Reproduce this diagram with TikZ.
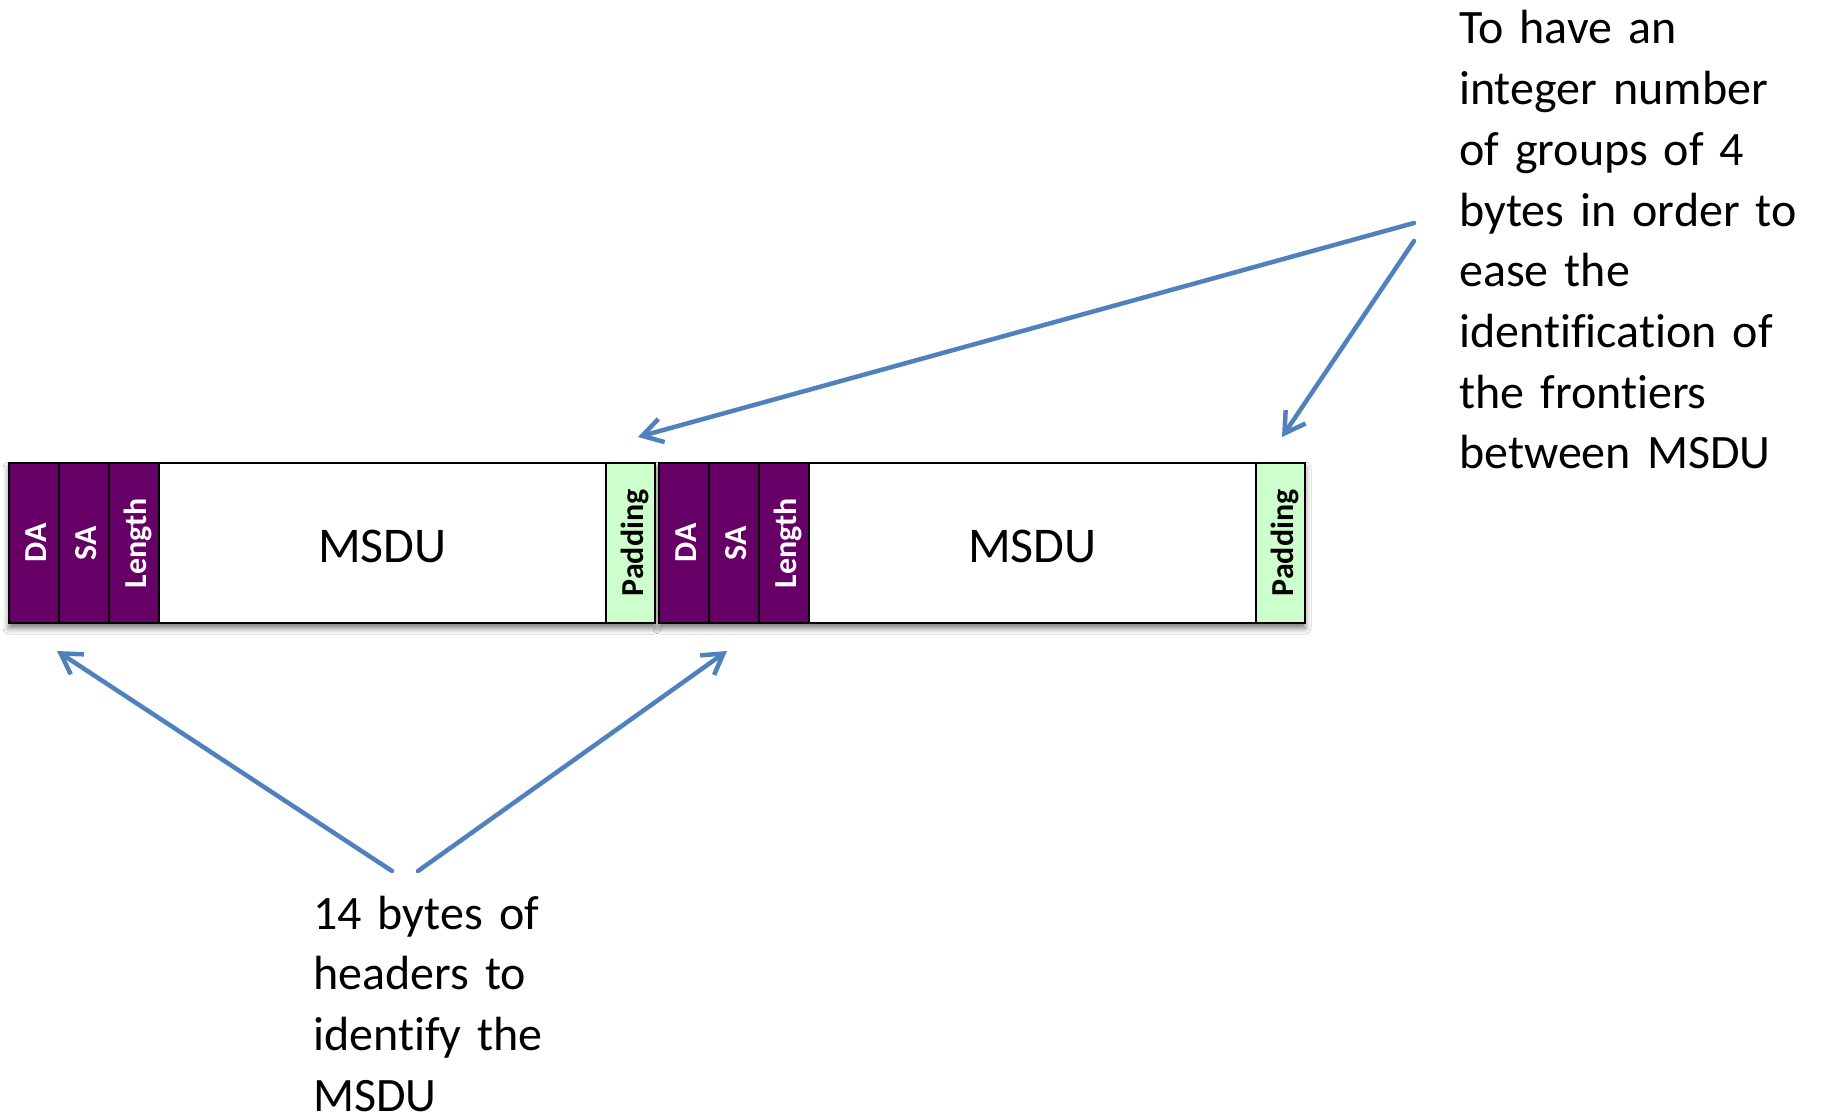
\documentclass[tikz,border=0pt]{standalone}
\usepackage{fontspec}
\setmainfont{Carlito}[Ligatures=NoCommon]
\usetikzlibrary{arrows.meta,shadows.blur}

\definecolor{hdrpurple}{HTML}{660066}
\definecolor{padgreen}{HTML}{CCFFCC}
\definecolor{arrowblue}{HTML}{4F81BD}

\tikzset{
  cell/.style={draw=black, line width=2pt, inner sep=0pt},
  hdr/.style={cell, fill=hdrpurple, rotate=90, minimum width=160pt, minimum height=50pt,
    text=white, font=\fontsize{32}{38}\selectfont\bfseries, text height=25pt, text depth=0pt},
  pad/.style={cell, fill=padgreen, rotate=90, minimum width=160pt, minimum height=49pt,
    text=black, font=\fontsize{32}{38}\selectfont\bfseries, text height=25pt, text depth=0pt},
  body/.style={cell, fill=white, minimum width=447pt, minimum height=160pt,
    font=\fontsize{50}{60}\selectfont, text height=39pt, text depth=0pt},
  note/.style={inner sep=0pt, align=left, font=\fontsize{48}{60.7}\selectfont},
  pointer/.style={draw=arrowblue, line width=4.5pt, line cap=round,
    -{Straight Barb[length=20pt,width=24pt]}},
}

\begin{document}
\begin{tikzpicture}[x=1pt,y=-1pt]
  \fill[white] (0,0) rectangle (1822,1113);
  \useasboundingbox (0,0) rectangle (1822,1113);

  % soft drop shadows under the two frames
  \path[fill=white, blur shadow={shadow xshift=0pt, shadow yshift=-5pt,
      shadow blur radius=6pt, shadow opacity=55}] (9,463) rectangle (655,623);
  \path[fill=white, blur shadow={shadow xshift=0pt, shadow yshift=-5pt,
      shadow blur radius=6pt, shadow opacity=55}] (659,463) rectangle (1305,623);

  % first A-MSDU subframe
  \node[hdr]  (da1)   at (34,543)    {DA};
  \node[hdr]  (sa1)   at (84,543)    {SA};
  \node[hdr]  (len1)  at (134,543)   {Length};
  \node[body] (msdu1) at (382.5,543) {MSDU};
  \node[pad]  (pad1)  at (630.5,543) {Padding};

  % second A-MSDU subframe
  \node[hdr]  (da2)   at (684,543)    {DA};
  \node[hdr]  (sa2)   at (734,543)    {SA};
  \node[hdr]  (len2)  at (784,543)    {Length};
  \node[body] (msdu2) at (1032.5,543) {MSDU};
  \node[pad]  (pad2)  at (1280.5,543) {Padding};

  % explanations
  \node[note, text width=360pt, anchor=base west] (why) at (1459,44)
    {To have an\\integer number\\of groups of 4\\bytes in order to\\ease the\\identification of\\the frontiers\\between MSDU};
  \node[note, text width=240pt, anchor=base west] (hdrs) at (313,929)
    {14 bytes of\\headers to\\identify the\\MSDU};

  % arrow ends
  \coordinate (why1) at (1414,223);
  \coordinate (why2) at (1414,241);
  \coordinate (gap1) at (638,437);
  \coordinate (gap2) at (1282,437);
  \coordinate (hdr1) at (392,871);
  \coordinate (hdr2) at (418,871);
  \coordinate (top1) at (57,651);
  \coordinate (top2) at (727,651);

  \draw[pointer] (why1) -- (gap1);
  \draw[pointer] (why2) -- (gap2);
  \draw[pointer] (hdr1) -- (top1);
  \draw[pointer] (hdr2) -- (top2);
\end{tikzpicture}
\end{document}
